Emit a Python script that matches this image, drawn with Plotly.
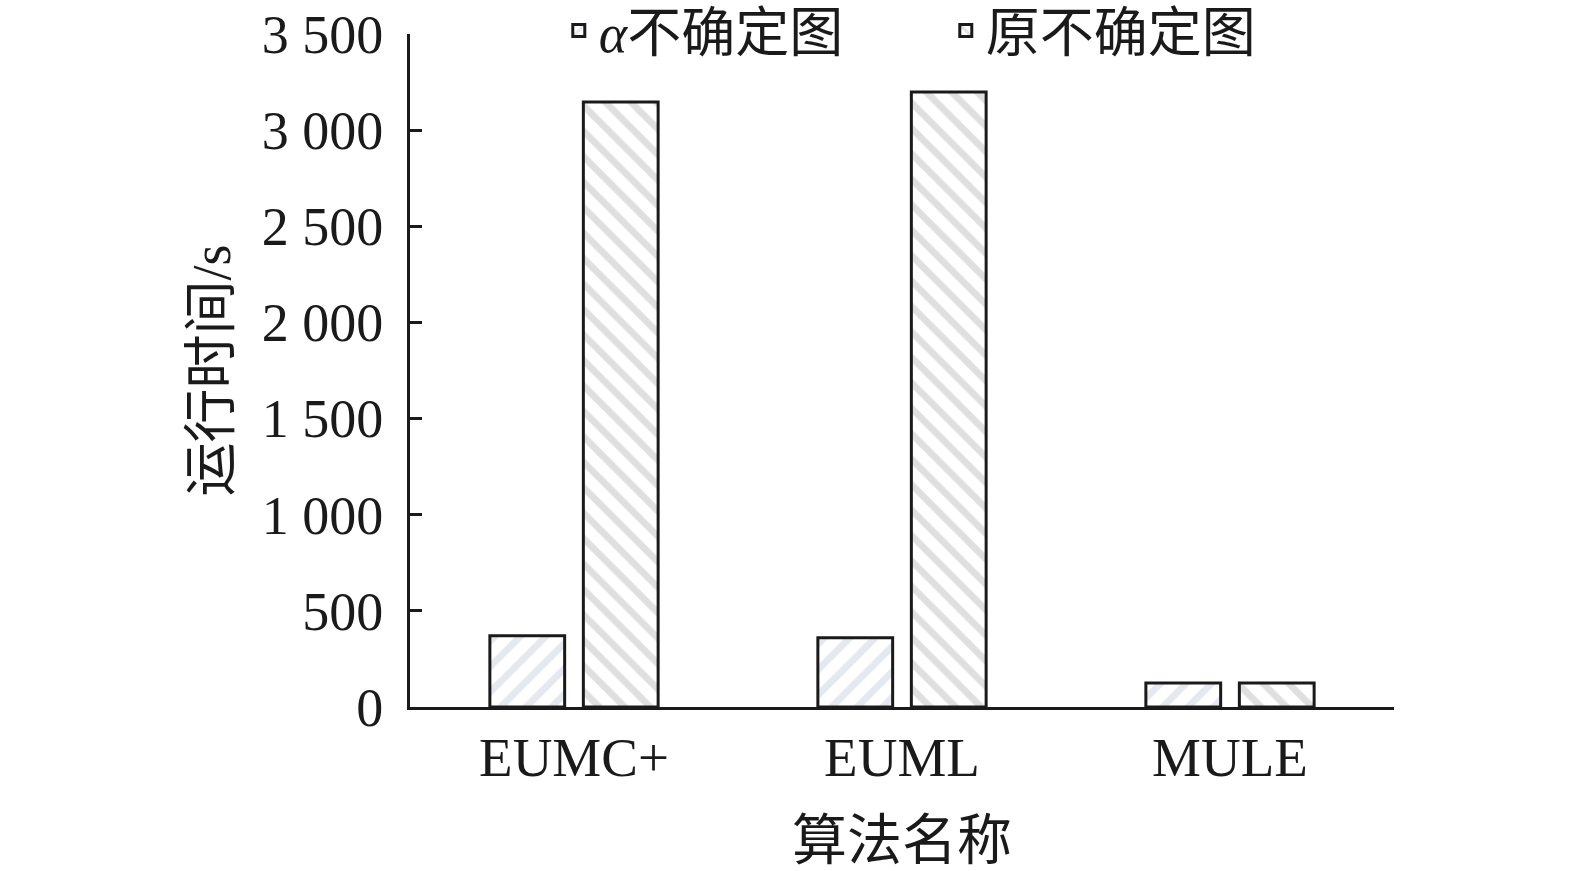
import plotly.graph_objects as go

categories = ["EUMC+", "EUML", "MULE"]
alpha_vals = [370, 360, 125]
orig_vals = [3146, 3198, 125]
series_names = ["<i>α</i>不确定图", "原不确定图"]
y_ticks = [0, 500, 1000, 1500, 2000, 2500, 3000, 3500]

FONT = "Liberation Serif, Times New Roman, Noto Sans CJK SC, serif"

fig = go.Figure()
fig.add_trace(go.Bar(
    x=categories, y=alpha_vals, name=series_names[0],
    marker=dict(color="white", line=dict(color="#1a1a1a", width=3),
                pattern=dict(shape="/", fgcolor="#c9d1e0", bgcolor="white",
                             size=18, solidity=0.38, fillmode="overlay")),
))
fig.add_trace(go.Bar(
    x=categories, y=orig_vals, name=series_names[1],
    marker=dict(color="white", line=dict(color="#1a1a1a", width=3),
                pattern=dict(shape="\\", fgcolor="#c0c0c0", bgcolor="white",
                             size=18, solidity=0.38, fillmode="overlay")),
))

fig.update_layout(
    width=1575, height=871,
    margin=dict(l=410, r=181, t=34, b=164, autoexpand=False),
    paper_bgcolor="white", plot_bgcolor="white",
    barmode="group", bargap=0.43, bargroupgap=0.2,
    separators=". ",
    font=dict(family=FONT, size=54, color="#1a1a1a"),
    showlegend=True,
    legend=dict(orientation="h", x=0.5445, xanchor="center", y=1.0045, yanchor="middle",
                font=dict(size=54, family=FONT), bgcolor="rgba(0,0,0,0)",
                itemwidth=30, entrywidth=342, entrywidthmode="pixels", tracegroupgap=0),
    xaxis=dict(showline=True, linecolor="#1a1a1a", linewidth=3, ticks="",
               tickfont=dict(size=55, family=FONT), range=[-0.5, 2.5],
               title=dict(text="算法名称", font=dict(size=55, family=FONT), standoff=34),
               showgrid=False, zeroline=False, ticklabelstandoff=0),
    yaxis=dict(showline=True, linecolor="#1a1a1a", linewidth=3, ticks="inside",
               ticklen=12, tickwidth=3, tickcolor="#1a1a1a",
               tickvals=y_ticks, tickformat=",", range=[0, 3500],
               tickfont=dict(size=54, family=FONT), ticklabeloverflow="allow",
               title=dict(text="运行时间/s", font=dict(size=54, family=FONT), standoff=14),
               showgrid=False, zeroline=False, ticklabelstandoff=13),
)

fig.write_html("out.html",
               config={"displayModeBar": False},
               post_script="document.body.style.margin='0';document.body.style.padding='0';")
